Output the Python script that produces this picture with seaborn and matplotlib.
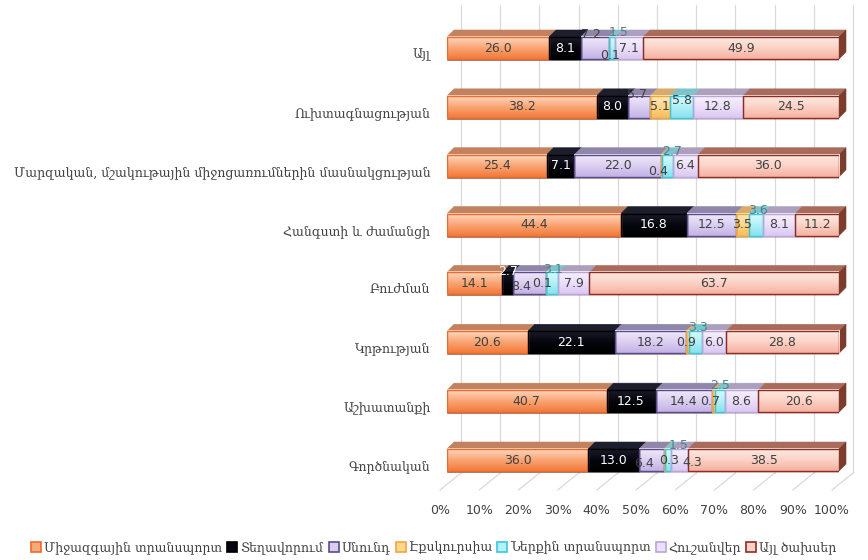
import numpy as np
import pandas as pd
import matplotlib
matplotlib.use("Agg")
import matplotlib.pyplot as plt
import seaborn as sns
from matplotlib.patches import Polygon, Patch, Rectangle
from matplotlib.colors import LinearSegmentedColormap
from matplotlib.transforms import ScaledTranslation

# ---- data -----------------------------------------------------------------
categories = [
    "Այլ",
    "Ուխտագնացության",
    "Մարզական, մշակութային միջոցառումներին մասնակցության",
    "Հանգստի և ժամանցի",
    "Բուժման",
    "Կրթության",
    "Աշխատանքի",
    "Գործնական",
]
series_names = [
    "Միջազգային տրանսպորտ",
    "Տեղավորում",
    "Սնունդ",
    "Էքսկուրսիա",
    "Ներքին տրանսպորտ",
    "Հուշանվեր",
    "Այլ ծախսեր",
]
mij_transport = [26.0, 38.2, 25.4, 44.4, 14.1, 20.6, 40.7, 36.0]
teghavorum = [8.1, 8.0, 7.1, 16.8, 2.7, 22.1, 12.5, 13.0]
snund = [7.2, 5.7, 22.0, 12.5, 8.4, 18.2, 14.4, 6.4]
ekskursia = [0.1, 5.1, 0.4, 3.5, 0.1, 0.9, 0.7, 0.3]
nerkin_transport = [1.5, 5.8, 2.7, 3.6, 3.1, 3.3, 2.5, 1.5]
hushanver = [7.1, 12.8, 6.4, 8.1, 7.9, 6.0, 8.6, 4.3]
ayl_tsakhser = [49.9, 24.5, 36.0, 11.2, 63.7, 28.8, 20.6, 38.5]
x_ticks = [0, 10, 20, 30, 40, 50, 60, 70, 80, 90, 100]

series_values = [mij_transport, teghavorum, snund, ekskursia,
                 nerkin_transport, hushanver, ayl_tsakhser]

# ---- styling --------------------------------------------------------------
front_colors = ["#f9a878", "#05060f", "#d9ccf0", "#fcd88c", "#b4f2f8", "#ede0fa", "#fcd2c8"]
# vertical shading of the front faces: top, middle, bottom
front_shades = [
    ["#fddcc6", "#faa676", "#f27a3a"],
    ["#1c1c2a", "#06070f", "#000000"],
    ["#f1ebfb", "#dcd0f2", "#c2b2e4"],
    ["#feecc0", "#fcd68a", "#f6bc5c"],
    ["#dcfbfd", "#b2f1f8", "#86e2ee"],
    ["#f8f2fd", "#ece0fa", "#dbc8f2"],
    ["#feebe5", "#fcd3c7", "#f5b1a1"],
]
edge_colors = ["#ee6a2c", "#000000", "#5b4a8c", "#f0a43c", "#3cc6dc", "#b9a6d8", "#8c2c22"]
top_colors = ["#c2825f", "#1d1e2c", "#8f86aa", "#d6ab6c", "#7cc4cc", "#aca0bc", "#a96c5c"]
side_color = "#7c3c2c"
text_color = "#404040"

# nudges (pixels, +x right, +y down) for labels of narrow segments
label_nudge = {
    (0, 2): (-4, -13), (0, 3): (1, 7), (0, 4): (6, -15),
    (1, 2): (-2, -12), (1, 4): (0, -6),
    (2, 3): (-3, 6), (2, 4): (5, -14),
    (3, 4): (2, -14),
    (4, 1): (0, -12), (4, 2): (-8, 3), (4, 3): (-4, 0), (4, 4): (1, -14),
    (5, 3): (-2, 0), (5, 4): (2, -15),
    (6, 3): (-3, 0), (6, 4): (0, -16),
    (7, 2): (-8, 3), (7, 3): (4, 0), (7, 4): (10, -15), (7, 5): (13, 2),
}

sns.set_theme(style="white")
plt.rcParams["font.family"] = ["DejaVu Sans"]

W, H = 868, 560
fig = plt.figure(figsize=(W / 100, H / 100), dpi=100)
fig.patch.set_facecolor("white")

AX_L, AX_R, AX_T, AX_B = 447, 839, 20, 490
ax = fig.add_axes([AX_L / W, (H - AX_B) / H, (AX_R - AX_L) / W, (AX_B - AX_T) / H])

# table of shares, normalised so every row totals 100 %
df = pd.DataFrame(dict(zip(series_names, series_values)), index=categories)
df = df.div(df.sum(axis=1), axis=0) * 100
cum = df.cumsum(axis=1)
left = cum - df

BAR_H = 0.374
PX_Y = 58.86                      # pixels per category step
Y0 = -28 / PX_Y                   # data y at the top of the axes
Y1 = Y0 + (AX_B - AX_T) / PX_Y    # data y at the bottom of the axes
PX_X = (AX_R - AX_L) / 100.0      # pixels per percent
DX = 7 / PX_X                     # depth offset in data units
DY = 7 / PX_Y


def py(p):
    """figure pixel row -> data y"""
    return Y0 + (p - AX_T) / PX_Y


# back wall gridlines and floor lines
for t in x_ticks:
    ax.plot([t + 2 * DX, t + 2 * DX], [py(5), py(473)], color="#d9d9d9",
            lw=0.9, clip_on=False, zorder=0)
    ax.plot([t + 2 * DX, t - DX], [py(473), py(490)], color="#d9d9d9",
            lw=0.9, clip_on=False, zorder=0)

# front faces: cumulative bars drawn from the widest to the narrowest
plot_df = cum.reset_index().rename(columns={"index": "category"})
for k in range(len(series_names) - 1, -1, -1):
    sns.barplot(data=plot_df, x=series_names[k], y="category", orient="h",
                color=front_colors[k], saturation=1, width=BAR_H,
                edgecolor=edge_colors[k], linewidth=1.0, ax=ax, zorder=3)

shade_maps = [LinearSegmentedColormap.from_list(f"shade{k}", c)
              for k, c in enumerate(front_shades)]
grad = np.linspace(0, 1, 64).reshape(-1, 1)

for i, cat in enumerate(categories):
    top = i - BAR_H / 2
    bot = i + BAR_H / 2
    for k, name in enumerate(series_names):
        l = left.loc[cat, name]
        r = cum.loc[cat, name]
        if r - l <= 0:
            continue
        # shaded front face with its outline
        ax.imshow(grad, cmap=shade_maps[k], extent=(l, r, bot, top), origin="upper",
                  aspect="auto", interpolation="bilinear", zorder=3.1)
        ax.add_patch(Rectangle((l, top), r - l, BAR_H, fill=False,
                               edgecolor=edge_colors[k], lw=1.0, zorder=3.3))
        # top face
        ax.add_patch(Polygon([(l, top), (r, top), (r + DX, top - DY), (l + DX, top - DY)],
                             closed=True, facecolor=top_colors[k], edgecolor=top_colors[k],
                             lw=0.4, zorder=2.5, clip_on=False))
    end = cum.loc[cat, series_names[-1]]
    ax.add_patch(Polygon([(end, top), (end + DX, top - DY), (end + DX, bot - DY), (end, bot)],
                         closed=True, facecolor=side_color, edgecolor=side_color,
                         lw=0.4, zorder=2.6, clip_on=False))

# value labels, from the original (unnormalised) values
for i, cat in enumerate(categories):
    for k, name in enumerate(series_names):
        val = series_values[k][i]
        xc = (left.loc[cat, name] + cum.loc[cat, name]) / 2
        dxp, dyp = label_nudge.get((i, k), (0, 0))
        color = "white" if k == 1 else text_color
        if k == 4 and dyp < -8:
            color = "#4f7f8c"
        txt = ax.text(xc, i, f"{val:.1f}", ha="center", va="center",
                      fontsize=9, color=color, zorder=6)
        txt.set_transform(ax.transData + ScaledTranslation(dxp / 100, -dyp / 100,
                                                           fig.dpi_scale_trans))

ax.set_xlim(0, 100)
ax.set_ylim(Y1, Y0)
for s in ax.spines.values():
    s.set_visible(False)
ax.set_xlabel("")
ax.set_ylabel("")
ax.grid(False)

ax.set_xticks(x_ticks)
ax.set_xticklabels([f"{t}%" for t in x_ticks])
ax.tick_params(axis="x", length=0, pad=10, labelsize=9, labelcolor=text_color)
for lab in ax.get_xticklabels():
    lab.set_transform(lab.get_transform() + ScaledTranslation(-7 / 100, 0, fig.dpi_scale_trans))

ax.set_yticks(range(len(categories)))
ax.set_yticklabels(categories)
ax.tick_params(axis="y", length=0, pad=12, labelsize=9, labelcolor=text_color)
for lab in ax.get_yticklabels():
    lab.set_fontfamily(["DejaVu Serif", "DejaVu Sans"])
    lab.set_transform(lab.get_transform() + ScaledTranslation(0, -5 / 100, fig.dpi_scale_trans))

handles = [Patch(facecolor=front_colors[k], edgecolor=edge_colors[k], lw=1.2)
           for k in range(len(series_names))]
fig.legend(handles, series_names, loc="center", bbox_to_anchor=(0.5, 1 - 548 / H),
           ncol=7, frameon=False, handlelength=0.8, handleheight=0.8,
           handletextpad=0.25, columnspacing=0.4, labelcolor=text_color,
           prop={"family": ["DejaVu Serif", "DejaVu Sans"], "size": 9})

fig.savefig("out.png", dpi=100, facecolor="white")
